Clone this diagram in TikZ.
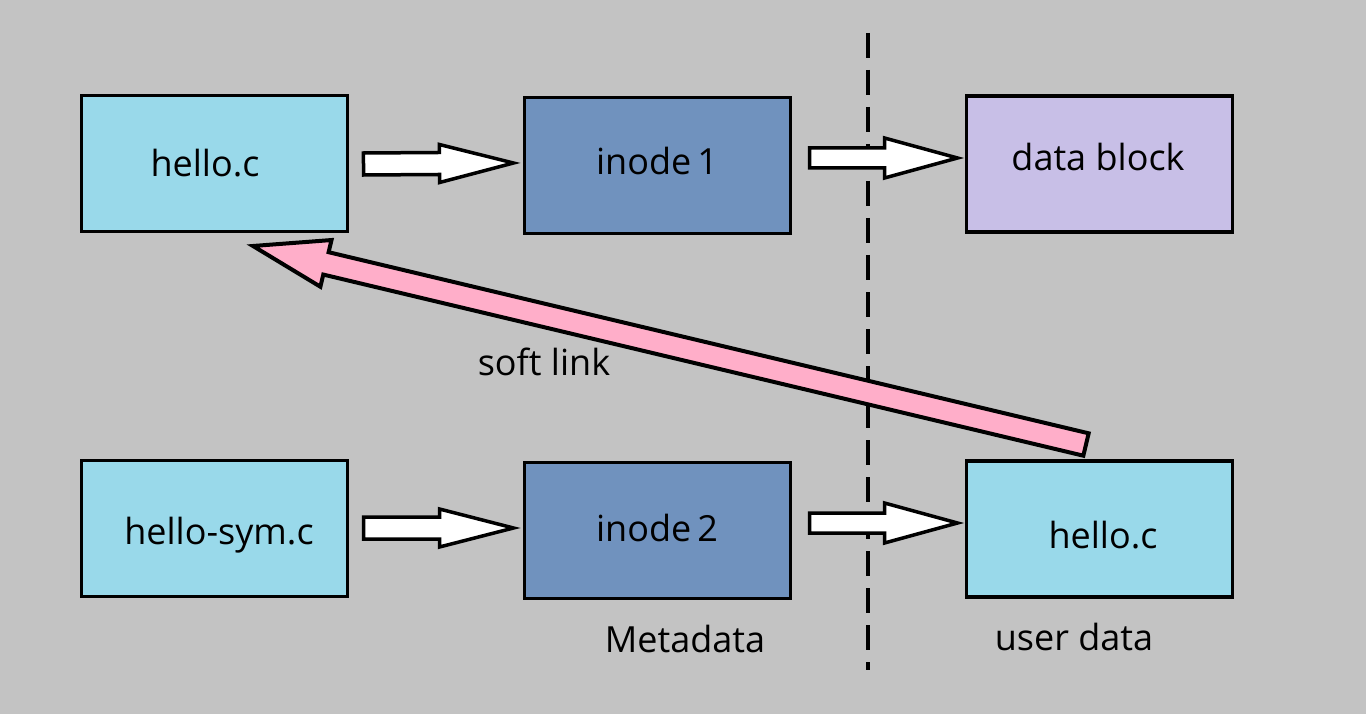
\documentclass[tikz,border=0pt]{standalone}
\usepackage{fontspec}
\setmainfont{Open Sans}
\usetikzlibrary{calc}
\definecolor{bg}{HTML}{C3C3C3}
\definecolor{lblue}{HTML}{99D9EA}
\definecolor{inodeblue}{HTML}{7092BE}
\definecolor{lav}{HTML}{C8BFE7}
\definecolor{pinkarrow}{HTML}{FFAEC9}
\newcommand\blockarrow[6]{%
  \coordinate (#2-#3-h) at ($(#3)!#6!(#2)$);
  \draw[#1] ($(#2)!#4!90:(#3)$) -- ($(#2-#3-h)!#4!90:(#3)$) -- ($(#2-#3-h)!#5!90:(#3)$) -- (#3)
    -- ($(#2-#3-h)!#5!-90:(#3)$) -- ($(#2-#3-h)!#4!-90:(#3)$) -- ($(#2)!#4!-90:(#3)$) -- cycle;
}
\tikzset{
  box/.style={draw=black, line width=3.5pt, minimum width=266pt, minimum height=136pt, inner sep=0pt, outer sep=0pt},
  txt/.style={font=\fontsize{36}{40}\selectfont, anchor=base, inner sep=0pt, text=black},
  whitearrow/.style={draw=black, fill=white, line width=3.5pt, line join=miter},
  pinkblock/.style={draw=black, fill=pinkarrow, line width=4pt, line join=miter},
  divider/.style={draw=black, line width=4.5pt, dash pattern=on 25pt off 12pt}
}
\begin{document}
\begin{tikzpicture}[x=1pt,y=-1pt]
\useasboundingbox (0,0) rectangle (1366,714);
\fill[bg] (0,0) rectangle (1366,714);
% divider
\coordinate (dtop) at (868,33);
\coordinate (dbot) at (868,670);
\draw[divider] (dtop) -- (dbot);
% boxes
\node[box, fill=lblue] (b1) at (214.5,163.5) {};
\node[box, fill=inodeblue] (b2) at (657.5,165.5) {};
\node[box, fill=lav] (b3) at (1099.5,164) {};
\node[box, fill=lblue] (b4) at (214.5,528.5) {};
\node[box, fill=inodeblue] (b5) at (657.5,530.5) {};
\node[box, fill=lblue] (b6) at (1099.5,529) {};
% texts
\node[txt] (t1) at (205,177) {hello.c};
\node[txt] (t2) at (657,175) {inode\,1};
\node[txt] (t3) at (1098,171) {data block};
\node[txt] (t4) at (219,544) {hello-sym.c};
\node[txt] (t5) at (657,541) {inode\,2};
\node[txt] (t6) at (1103,548) {hello.c};
\node[txt] (t7) at (544,375) {soft link};
\node[txt] (t8) at (685,652) {Metadata};
\node[txt] (t9) at (1074,650) {user data};
% connector end points
\coordinate (a1s) at ($(b1.east)+(16,0.5)$);
\coordinate (a1e) at ($(b2.west)+(-11,-2.5)$);
\coordinate (a2s) at ($(b2.east)+(19,-7.5)$);
\coordinate (a2e) at ($(b3.west)+(-9,-6)$);
\coordinate (a3s) at ($(b4.east)+(16,-0.5)$);
\coordinate (a3e) at ($(b5.west)+(-11,-2.5)$);
\coordinate (a4s) at ($(b5.east)+(19,-7.5)$);
\coordinate (a4e) at ($(b6.west)+(-9,-6)$);
\coordinate (ps) at ($(b6.north)+(-13.5,-16.5)$);
\coordinate (pe) at ($(b1.south)+(38.5,14.5)$);
% arrows
\blockarrow{whitearrow}{a1s}{a1e}{11pt}{19pt}{74pt}
\blockarrow{whitearrow}{a2s}{a2e}{10pt}{20pt}{73pt}
\blockarrow{whitearrow}{a3s}{a3e}{11pt}{19pt}{74pt}
\blockarrow{whitearrow}{a4s}{a4e}{10pt}{20pt}{73pt}
\blockarrow{pinkblock}{ps}{pe}{11.5pt}{24pt}{75pt}
\end{tikzpicture}
\end{document}
